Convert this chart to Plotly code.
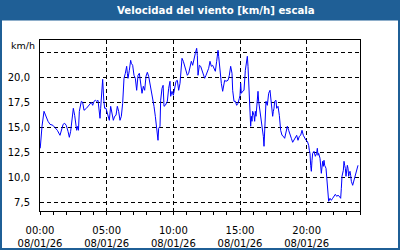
import plotly.graph_objects as go
import pandas as pd

DAY = "2026-01-08"
times = ["00:01","00:09","00:18","00:24","00:36","00:45","00:58","01:06","01:18","01:30","01:33","01:44","01:51","01:58",
"02:06","02:12","02:18","02:24","02:30","02:36","02:42","02:45","02:50","02:53","02:57","03:02","03:06","03:12","03:18",
"03:29","03:36","03:44","03:51","03:57","04:03","04:09","04:15","04:21","04:27","04:30","04:33","04:38","04:42","04:47",
"04:51","04:57","05:06","05:12","05:18","05:24","05:30","05:36","05:42","05:48","05:54","06:00","06:06","06:12","06:18",
"06:24","06:30","06:33","06:36","06:42","06:48","06:51","06:57","07:03","07:09","07:15","07:21","07:27","07:33","07:39",
"07:45","07:51","07:57","08:03","08:09","08:15","08:21","08:27","08:33","08:39","08:45","08:48","08:51","08:54","09:00",
"09:03","09:09","09:14","09:18","09:24","09:33","09:39","09:45","09:48","09:54","10:00","10:06","10:12","10:18","10:24",
"10:30","10:33","10:39","10:45","10:51","10:57","11:03","11:09","11:15","11:21","11:27","11:33","11:39","11:45","11:48",
"11:51","11:57","12:03","12:09","12:15","12:21","12:27","12:33","12:39","12:45","12:51","12:57","13:03","13:09","13:15",
"13:21","13:24","13:30","13:36","13:42","13:45","13:51","13:57","14:06","14:12","14:18","14:24","14:27","14:33","14:39",
"14:45","14:51","14:57","15:00","15:03","15:06","15:12","15:18","15:24","15:30","15:33","15:36","15:39","15:42","15:45",
"15:48","15:51","15:54","15:57","16:03","16:06","16:09","16:12","16:18","16:21","16:24","16:30","16:36","16:42","16:45",
"16:48","16:51","16:54","16:57","17:03","17:09","17:15","17:18","17:21","17:27","17:30","17:33","17:36","17:39","17:42",
"17:45","17:51","17:57","18:00","18:03","18:09","18:15","18:21","18:27","18:33","18:39","18:45","18:51","18:57","19:03",
"19:09","19:15","19:21","19:27","19:33","19:39","19:45","19:51","19:57","20:03","20:09","20:12","20:15","20:18","20:21",
"20:24","20:27","20:33","20:36","20:39","20:45","20:48","20:51","20:54","21:00","21:03","21:06","21:12","21:15","21:18",
"21:21","21:27","21:30","21:33","21:36","21:39","21:45","21:51","21:57","22:03","22:09","22:15","22:21","22:27","22:33",
"22:36","22:39","22:45","22:48","22:51","22:54","22:57","23:00","23:03","23:06","23:09","23:12","23:15","23:18","23:21",
"23:27","23:33","23:39","23:45","23:48","23:51"]
wind_kmh = [12.9,15.1,16.6,16.2,15.6,15.3,15.2,15.0,14.7,14.2,14.4,15.3,15.4,15.2,
14.6,14.0,14.6,15.6,16.9,16.2,14.9,14.7,15.1,14.7,16.6,17.4,17.6,17.5,16.7,
16.9,17.1,17.3,17.5,17.2,17.6,17.7,17.6,17.7,16.7,15.9,16.9,18.8,19.8,17.7,
16.9,16.9,16.1,15.7,17.1,16.2,15.7,16.1,16.2,17.1,16.6,15.7,16.1,17.4,19.9,
20.4,21.1,20.4,19.9,20.7,21.7,21.4,21.2,20.2,19.9,18.7,20.2,20.4,19.6,18.4,
19.1,18.7,20.1,20.5,20.1,19.4,18.7,17.9,17.1,16.1,14.9,14.7,13.7,14.9,15.1,
17.7,18.9,19.2,17.1,17.2,17.6,18.9,19.6,18.1,18.6,18.2,19.1,19.6,19.7,18.7,
19.4,20.4,21.9,21.6,21.2,20.6,20.2,20.4,20.9,21.6,21.2,21.9,22.4,22.9,22.2,
20.2,21.2,21.1,20.7,20.4,19.9,20.2,20.6,20.9,21.6,21.1,21.2,20.9,20.6,21.6,
22.7,22.1,20.4,19.4,18.6,19.1,19.7,19.6,19.7,20.2,21.1,20.4,18.7,17.6,17.6,
17.2,17.4,17.9,18.2,19.4,18.4,18.6,18.7,20.7,21.4,22.1,21.1,19.4,17.7,16.6,
15.1,16.1,15.6,16.6,16.2,15.6,16.6,16.1,17.6,18.6,17.6,16.6,16.1,15.1,14.1,
13.1,15.1,16.4,17.6,17.2,18.4,18.7,18.1,17.2,16.1,16.6,16.9,17.6,17.7,17.7,
16.9,17.1,16.2,15.4,14.7,14.2,14.1,13.9,14.4,15.1,14.7,14.2,13.9,13.5,13.7,
13.9,14.2,13.7,14.1,14.2,14.7,14.2,13.9,13.7,13.6,13.2,12.7,12.4,11.2,10.6,
11.7,12.4,12.6,12.2,12.1,12.4,12.9,12.2,12.4,11.9,11.2,10.4,11.6,11.1,11.7,
11.2,10.9,10.2,9.2,8.4,7.6,7.9,7.7,7.9,8.1,8.3,8.1,8.2,8.1,7.9,
8.9,10.1,10.7,11.6,11.2,10.9,10.1,10.7,11.2,10.9,10.1,10.4,10.6,10.2,9.6,
9.2,9.7,10.2,10.6,10.9,11.2]

x_tick_times = ["00:00", "05:00", "10:00", "15:00", "20:00"]
x_tick_date = "08/01/26"
y_tick_vals = [7.5, 10.0, 12.5, 15.0, 17.5, 20.0, 22.5]
y_tick_text = ["7,5", "10,0", "12,5", "15,0", "17,5", "20,0", ""]
title_text = "Velocidad del viento [km/h] escala"
unit_text = "km/h"

W, H = 400, 250
L, R, T, B = 40, 40, 40, 39
PW, PH = W - L - R, H - T - B

def px(x):
    return (x - L) / PW

def py(y):
    return (H - B - y) / PH

x = pd.to_datetime([f"{DAY} {t}" for t in times])
FONT = "DejaVu Sans"
BLUE = "#1f5f96"

fig = go.Figure()
fig.add_trace(go.Scatter(x=x, y=wind_kmh, mode="lines",
                         line=dict(color="#0000ff", width=1), hoverinfo="skip"))

fig.update_layout(
    width=W, height=H,
    margin=dict(l=L, r=R, t=T, b=B, pad=0, autoexpand=False),
    paper_bgcolor="white", plot_bgcolor="white",
    showlegend=False,
    separators=",.",
    font=dict(family=FONT, size=10, color="black"),
    xaxis=dict(
        type="date", automargin=False,
        range=[f"{DAY} 00:00", "2026-01-09 00:00"],
        tickmode="array",
        tickvals=[f"{DAY} {t}" for t in x_tick_times],
        ticktext=[f"{t}<br>{x_tick_date}" for t in x_tick_times],
        ticks="outside", ticklen=3, tickcolor="black", tickwidth=1,
        ticklabelstandoff=7,
        showgrid=True, gridcolor="black", gridwidth=1, griddash="4px,3px",
        showline=True, linecolor="black", linewidth=1, mirror=True,
        minor=dict(tickmode="linear", tick0=f"{DAY} 00:00", dtick=3600000,
                   ticks="outside", ticklen=3, tickcolor="black", showgrid=False),
        zeroline=False, fixedrange=True,
        tickfont=dict(family=FONT, size=10),
    ),
    yaxis=dict(
        automargin=False,
        range=[6.63, 23.73],
        tickmode="array", tickvals=y_tick_vals, ticktext=y_tick_text,
        ticks="", ticklabelstandoff=7,
        showgrid=True, gridcolor="black", gridwidth=1, griddash="4px,3px",
        showline=True, linecolor="black", linewidth=1, mirror=True,
        zeroline=False, fixedrange=True,
        tickfont=dict(family=FONT, size=10),
    ),
    shapes=[
        dict(type="rect", xref="paper", yref="paper", x0=px(0), x1=px(W), y0=py(0), y1=py(20.5),
             fillcolor=BLUE, line=dict(width=0), layer="above"),
        dict(type="rect", xref="paper", yref="paper", x0=px(1), x1=px(W - 1), y0=py(0), y1=py(H - 1),
             fillcolor="rgba(0,0,0,0)", line=dict(color=BLUE, width=2), layer="above"),
    ],
    annotations=[
        dict(text=f"<b>{title_text}</b>", xref="paper", yref="paper", x=px(215.5), y=py(10.5),
             xanchor="center", yanchor="middle", showarrow=False,
             font=dict(family=FONT, size=10.2, color="white")),
        dict(text=unit_text, xref="paper", yref="paper", x=px(36.5), y=py(45.5),
             xanchor="right", yanchor="middle", showarrow=False,
             font=dict(family=FONT, size=9.5, color="black")),
    ],
)

fig.write_html("out.html", config={"displayModeBar": False})
